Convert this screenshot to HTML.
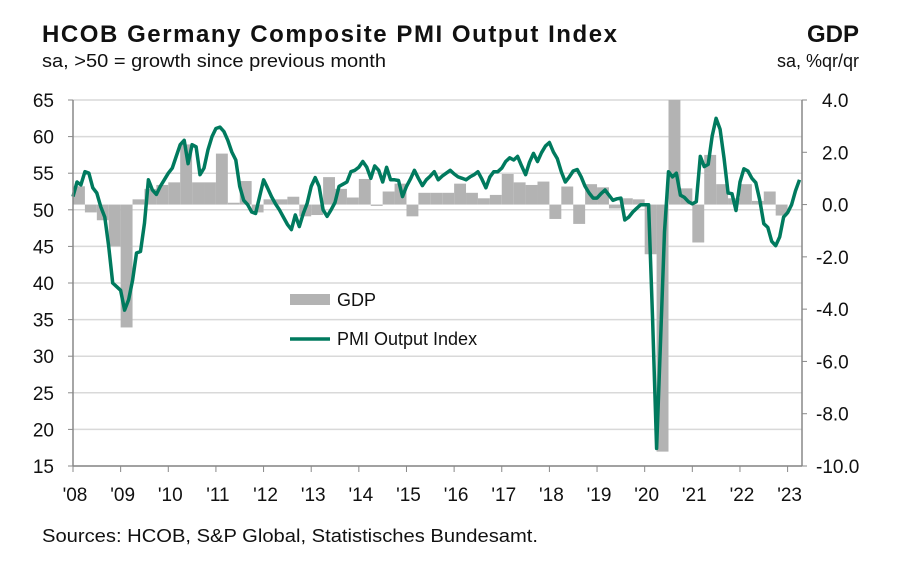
<!DOCTYPE html>
<html><head><meta charset="utf-8"><style>
body{margin:0;background:#fff;width:900px;height:567px;overflow:hidden;font-family:"Liberation Sans",Arial,sans-serif}
</style></head><body>
<svg id="chart" width="900" height="567" viewBox="0 0 900 567" xmlns="http://www.w3.org/2000/svg" font-family="Liberation Sans, Arial, sans-serif">
<text x="42" y="42" font-size="24" font-weight="bold" fill="#111" textLength="575" lengthAdjust="spacing">HCOB Germany Composite PMI Output Index</text>
<text x="42" y="67" font-size="18" fill="#111" textLength="344" lengthAdjust="spacingAndGlyphs">sa, &gt;50 = growth since previous month</text>
<text x="859" y="42" font-size="24" font-weight="bold" fill="#111" text-anchor="end">GDP</text>
<text x="859" y="67" font-size="18" fill="#111" text-anchor="end">sa, %qr/qr</text>
<g id="grid"></g><g id="bars"></g><g id="line"></g><g id="axes"></g>
<g>
<rect x="290" y="294" width="40" height="11" fill="#b3b3b3"/>
<text x="337" y="306" font-size="18" fill="#111">GDP</text>
<line x1="290" y1="339" x2="330" y2="339" stroke="#007a5e" stroke-width="3.5"/>
<text x="337" y="345" font-size="18" fill="#111">PMI Output Index</text>
</g>
<text x="42" y="542" font-size="18" fill="#111" textLength="496" lengthAdjust="spacingAndGlyphs">Sources: HCOB, S&amp;P Global, Statistisches Bundesamt.</text>
</svg>
<script>
const pmiValues=[
51.8,53.8,53.4,55.2,55.0,53.0,52.3,50.4,49.0,45.0,40.0,39.5,
39.0,36.3,37.7,40.4,44.1,44.3,48.2,54.1,52.7,52.1,53.2,54.1,
55.0,55.7,57.3,58.9,59.5,56.3,58.9,58.6,54.8,55.7,58.2,60.0,
61.1,61.3,60.7,59.5,57.9,56.8,53.2,51.3,50.7,49.7,49.5,51.8,
54.1,53.0,51.8,50.8,50.0,49.0,48.0,47.3,49.3,47.7,49.5,50.9,
53.2,54.4,53.2,50.0,49.1,50.0,51.0,53.2,53.5,53.8,55.2,55.4,
55.8,56.6,55.8,54.3,56.0,55.4,53.8,55.8,54.1,54.1,54.0,51.8,
53.2,54.2,55.4,54.3,53.3,54.1,54.6,55.2,54.1,54.6,55.0,55.4,
54.9,54.5,54.3,54.1,54.5,54.8,55.2,54.2,53.0,54.5,55.2,55.2,
55.7,56.6,57.1,56.8,57.3,56.0,54.8,56.5,57.7,56.6,57.8,58.7,
59.2,57.9,57.0,55.2,53.8,54.5,55.3,55.5,54.5,53.2,52.3,51.6,
51.6,52.2,52.7,52.0,51.3,51.5,51.6,48.6,49.0,49.7,50.2,50.7,
50.7,50.7,35.0,17.4,32.3,47.0,55.2,54.5,55.0,52.0,51.7,51.1,
50.8,51.1,57.3,55.9,56.2,60.1,62.5,61.0,57.0,52.3,52.2,49.9,
53.8,55.6,55.3,54.3,53.7,51.3,48.1,47.6,45.7,45.1,46.3,49.0,
49.6,50.7,52.6,54.1];
const gdpValues=[
0.7,-0.3,-0.6,-1.6, -4.7,0.2,0.6,0.75, 0.85,2.3,0.85,0.85, 1.95,0.07,0.9,-0.3,
0.2,0.2,0.3,-0.45, -0.4,1.05,0.6,0.27, 0.98,-0.05,0.5,0.8, -0.45,0.45,0.45,0.45,
0.8,0.45,0.24,0.37, 1.17,0.85,0.75,0.88, -0.55,0.69,-0.74,0.78, 0.66,-0.15,0.24,0.2,
-1.9,-9.45,8.7,0.62, -1.45,1.9,0.78,0.24, 0.78,0.14,0.5,-0.42];
const leftTicks=[65,60,55,50,45,40,35,30,25,20,15];
const rightTicks=[4,2,0,-2,-4,-6,-8,-10];
const yearLabels=["'08","'09","'10","'11","'12","'13","'14","'15","'16","'17","'18","'19","'20","'21","'22","'23"];
const NS="http://www.w3.org/2000/svg";
const X0=73,MW=3.97,TOP=100,BOT=466,XR=802;
const xm=m=>X0+m*MW;
const yL=v=>TOP+(65-v)*(BOT-TOP)/50;
const yR=v=>TOP+(4-v)*(BOT-TOP)/14;
function mk(t,a,p){const e=document.createElementNS(NS,t);for(const k in a)e.setAttribute(k,a[k]);p.appendChild(e);return e;}
const grid=document.getElementById('grid'),axes=document.getElementById('axes');
leftTicks.forEach((v,i)=>{
 const g=mk('line',{x1:X0,x2:XR,y1:yL(v),y2:yL(v),stroke:'#d9d9d9','stroke-width':1.5},grid);
 
 
 const t=mk('line',{x1:X0-5,x2:X0,y1:yL(v),y2:yL(v),stroke:'#888'},axes);
 
 
 const tx=mk('text',{x:54,y:yL(v)+7,'font-size':19,'text-anchor':'end',fill:'#111'},axes);
 tx.textContent=v;
 
 
});
rightTicks.forEach(v=>{
 const t=mk('line',{x1:XR,x2:XR+5,y1:yR(v),y2:yR(v),stroke:'#888'},axes);
 
 
 const tx=mk('text',{x:v<0?816:822,y:yR(v)+7,'font-size':19,fill:'#111'},axes);
 tx.textContent=v.toFixed(1);
 
 
});
yearLabels.forEach((l,i)=>{
 const x=xm(i*12);
 const t=mk('line',{x1:x,x2:x,y1:BOT,y2:BOT+6,stroke:'#888'},axes);
 
 
 const tx=mk('text',{x:x+2,y:501,'font-size':19,'text-anchor':'middle',fill:'#111'},axes);
 tx.textContent=l;
 
 
});
[[X0,TOP,X0,BOT],[XR,TOP,XR,BOT],[X0,BOT,XR,BOT]].forEach((c,i)=>{
 const a=mk('line',{x1:c[0],y1:c[1],x2:c[2],y2:c[3],stroke:'#888','stroke-width':1.5},axes);
 
 
});
const bars=document.getElementById('bars');
gdpValues.forEach((v,q)=>{
 const vc=Math.max(-10,Math.min(4,v));
 const y0=yR(0),y1=yR(vc);
 const r=mk('rect',{x:xm(q*3),width:3*MW,y:Math.min(y0,y1),height:Math.abs(y1-y0),fill:'#b3b3b3'},bars);
 
 
});
const pts=pmiValues.map((v,m)=>xm(m).toFixed(1)+','+yL(v).toFixed(1)).join(' ');
const pl=mk('polyline',{points:pts,fill:'none',stroke:'#007a5e','stroke-width':3.5,'stroke-linejoin':'round'},document.getElementById('line'));


</script>
</body></html>
